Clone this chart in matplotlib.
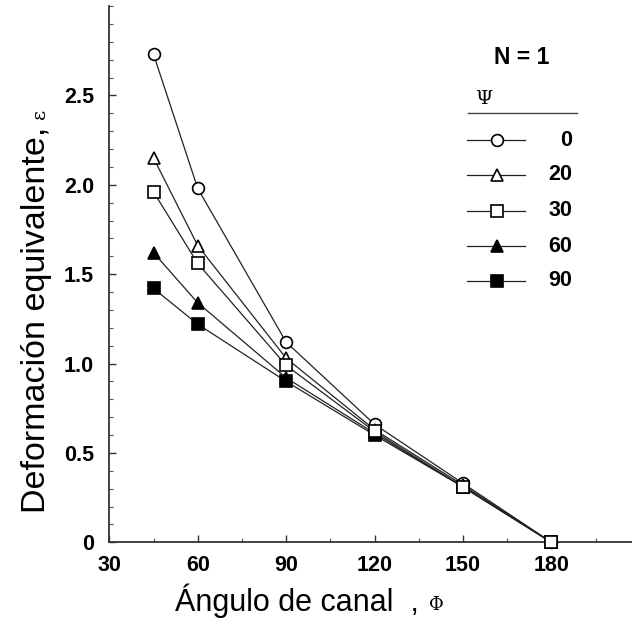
import matplotlib
matplotlib.use("Agg")
import matplotlib.pyplot as plt
from matplotlib.ticker import MultipleLocator, FixedLocator

plt.rcParams['font.family'] = ['Liberation Sans', 'DejaVu Sans']

# ---- data ----
phi = [45, 60, 90, 120, 150, 180]
psi_labels = [0, 20, 30, 60, 90]
eps_psi0 = [2.73, 1.98, 1.12, 0.66, 0.33, 0.0]
eps_psi20 = [2.15, 1.66, 1.03, 0.63, 0.32, 0.0]
eps_psi30 = [1.96, 1.56, 0.99, 0.62, 0.31, 0.0]
eps_psi60 = [1.62, 1.34, 0.92, 0.61, 0.31, 0.0]
eps_psi90 = [1.42, 1.22, 0.90, 0.60, 0.31, 0.0]
x_ticks = [30, 60, 90, 120, 150, 180]
y_ticks = [0, 0.5, 1.0, 1.5, 2.0, 2.5]
y_tick_labels = ["0", "0.5", "1.0", "1.5", "2.0", "2.5"]

series = [eps_psi0, eps_psi20, eps_psi30, eps_psi60, eps_psi90]
markers = ['o', '^', 's', '^', 's']
faces = ['white', 'white', 'white', 'black', 'black']
msizes = [8.5, 8.5, 8.5, 8.5, 8.0]
zorders = [4, 5, 6, 3.5, 3]

W, H = 632, 622
fig = plt.figure(figsize=(W / 100, H / 100), dpi=100)
left_px, bottom_px, top_px = 109.3, 542.3, 6.0
px_per_unit = 2.947
right_px = left_px + 180 * px_per_unit
ax = fig.add_axes([left_px / W, (H - bottom_px) / H,
                   (right_px - left_px) / W, (bottom_px - top_px) / H])
ax.set_xlim(30, 210)
ax.set_ylim(0, 3.0)

lc = '#222222'
for ys, m, fc, ms, zo in zip(series, markers, faces, msizes, zorders):
    ax.plot(phi, ys, color=lc, lw=0.9, marker=m, markersize=ms,
            markerfacecolor=fc, markeredgecolor='black', markeredgewidth=1.2,
            clip_on=False, zorder=zo)

for s in ['top', 'right']:
    ax.spines[s].set_visible(False)
for s in ['left', 'bottom']:
    ax.spines[s].set_linewidth(1.3)
    ax.spines[s].set_color('#333333')

ax.xaxis.set_major_locator(FixedLocator(x_ticks))
ax.set_xticklabels([str(v) for v in x_ticks])
ax.set_yticks(y_ticks)
ax.set_yticklabels(y_tick_labels)
ax.yaxis.set_minor_locator(MultipleLocator(0.1))
ax.xaxis.set_minor_locator(MultipleLocator(15))
ax.tick_params(axis='both', which='major', direction='in', length=5, width=1.0,
               labelsize=15.5, color='#333333')
ax.tick_params(axis='both', which='minor', direction='in', length=3, width=0.8,
               color='#555555')
ax.tick_params(axis='y', which='major', pad=11)
ax.tick_params(axis='x', which='major', pad=9)
for t in ax.get_xticklabels() + ax.get_yticklabels():
    t.set_fontweight('bold')

def fx(px):
    return (px - left_px) / (right_px - left_px)

def fy(py):
    return (bottom_px - py) / (bottom_px - top_px)

# axis labels
ax.set_xlabel("Ángulo de canal  ,", fontsize=22)
ax.xaxis.set_label_coords(fx(297), fy(584))
ax.annotate("Φ", xy=(1, 0.38), xycoords=ax.xaxis.label, xytext=(7, 0),
            textcoords='offset points', fontsize=13, va='center', ha='left',
            family=['DejaVu Serif'])

ax.set_ylabel("Deformación equivalente,", fontsize=24.5)
ax.yaxis.set_label_coords(fx(52), fy(320))
ax.annotate("ε", xy=(0.62, 1), xycoords=ax.yaxis.label, xytext=(0, 6),
            textcoords='offset points', fontsize=14, va='bottom', ha='center',
            rotation=90, family=['DejaVu Serif'])

# legend (drawn manually)
ax.text(fx(522), fy(57), "N = 1", transform=ax.transAxes, fontsize=16.5,
        fontweight='bold', ha='center', va='center')
ax.text(fx(484), fy(99), "Ψ", transform=ax.transAxes, fontsize=14,
        ha='center', va='center', family=['DejaVu Serif'])
ax.plot([fx(468), fx(577)], [fy(113), fy(113)], transform=ax.transAxes,
        color='#444444', lw=1.0, clip_on=False)
entry_y = [140, 175, 211, 246, 281]
for lab, m, fc, ms, py in zip(psi_labels, markers, faces, msizes, entry_y):
    ax.plot([fx(467), fx(525)], [fy(py), fy(py)], transform=ax.transAxes,
            color=lc, lw=0.9, clip_on=False)
    ax.plot([fx(497)], [fy(py)], transform=ax.transAxes, marker=m,
            markersize=ms, markerfacecolor=fc, markeredgecolor='black',
            markeredgewidth=1.2, clip_on=False, linestyle='none')
    ax.text(fx(572), fy(py), str(lab), transform=ax.transAxes, fontsize=15.5,
            fontweight='bold', ha='right', va='center')

fig.savefig("out.png", dpi=100)
